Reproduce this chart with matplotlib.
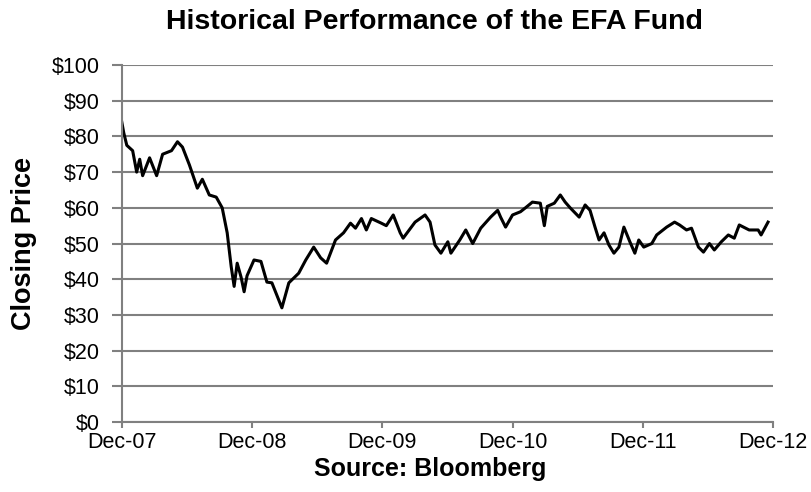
import matplotlib
matplotlib.use('Agg')
import matplotlib.pyplot as plt
import numpy as np

plt.rcParams['font.family'] = ['Liberation Sans', 'DejaVu Sans']

# months since Dec-07, closing price ($)
months = [0.0, 0.18, 0.46, 1.0, 1.37, 1.65, 1.92, 2.56, 3.21, 3.76, 4.58, 5.13, 5.59,
          6.23, 6.96, 7.42, 8.06, 8.70, 9.25, 9.71, 10.08, 10.35, 10.63, 10.99, 11.27,
          11.54, 12.18, 12.82, 13.37, 13.83, 14.75, 15.39, 16.30, 16.95, 17.68, 18.32,
          18.87, 19.69, 20.43, 21.07, 21.53, 22.08, 22.53, 22.99, 23.91, 24.37, 25.01,
          25.65, 25.92, 27.02, 27.94, 28.40, 28.85, 29.40, 30.04, 30.32, 31.14, 31.69,
          32.33, 33.07, 33.98, 34.63, 34.90, 35.36, 36.00, 36.73, 37.19, 37.83, 38.56,
          38.93, 39.20, 39.85, 40.40, 40.85, 41.31, 42.14, 42.69, 43.14, 43.60, 43.97,
          44.43, 44.88, 45.34, 45.80, 46.26, 46.81, 47.27, 47.63, 48.09, 48.83, 49.28,
          50.20, 50.93, 51.39, 52.03, 52.49, 53.13, 53.59, 54.14, 54.59, 55.24, 55.88,
          56.43, 56.89, 57.80, 58.63, 58.90, 59.54]
price = [84, 81, 77.5, 76, 70, 73.6, 69, 74, 69, 75, 76, 78.5, 77,
         72, 65.5, 68, 63.6, 63, 60, 53, 43.5, 38, 44.5, 40.6, 36.5,
         41, 45.4, 45, 39.2, 39, 32, 39, 41.7, 45.4, 49, 46,
         44.5, 51, 53, 55.7, 54.3, 57, 53.8, 57, 55.7, 55, 58,
         53, 51.5, 56, 58, 56, 49.6, 47.3, 50.5, 47.3, 51, 53.8,
         50, 54.3, 57.4, 59.3, 57.4, 54.6, 58, 58.9, 60, 61.6, 61.3,
         55, 60.4, 61.3, 63.6, 61.6, 60, 57.4, 60.8, 59.3, 54.6, 51,
         53, 49.6, 47.3, 49, 54.6, 50.5, 47.3, 51, 49, 50, 52.4,
         54.6, 56, 55.2, 53.8, 54.3, 49, 47.6, 50, 48.2, 50.5, 52.4,
         51.5, 55.2, 53.8, 53.8, 52.4, 56]

tick_labels = ['Dec-07', 'Dec-08', 'Dec-09', 'Dec-10', 'Dec-11', 'Dec-12']
yticks = np.arange(0, 101, 10)

fig = plt.figure(figsize=(8.12, 4.92), dpi=100)
ax = fig.add_axes([0.150, 0.142, 0.802, 0.726])

ax.plot(months, price, color='black', linewidth=2.2)

ax.set_xlim(0, 60)
ax.set_ylim(0, 100)
ax.set_xticks(np.arange(0, 61, 12))
ax.set_xticklabels(tick_labels)
ax.set_yticks(yticks)
ax.set_yticklabels(['$%d' % v for v in yticks])
ax.yaxis.grid(True, color='#808080', linewidth=1.5)
ax.set_axisbelow(True)

for s in ['top', 'right']:
    ax.spines[s].set_visible(False)
for s in ['left', 'bottom']:
    ax.spines[s].set_color('#808080')
    ax.spines[s].set_linewidth(1.5)
ax.tick_params(axis='both', colors='#808080', width=1.5, labelsize=15.5,
               labelcolor='black')
ax.tick_params(axis='y', length=7, pad=9)
ax.tick_params(axis='x', length=4, pad=3)

fig.text(0.535, 0.955, 'Historical Performance of the EFA Fund', fontsize=20.5,
         fontweight='bold', ha='center', va='center')
fig.text(0.029, 0.506, 'Closing Price', fontsize=19.5, fontweight='bold',
         rotation=90, ha='center', va='center')
fig.text(0.530, 0.047, 'Source: Bloomberg', fontsize=18, fontweight='bold',
         ha='center', va='center')

plt.savefig('out.png', dpi=100)
